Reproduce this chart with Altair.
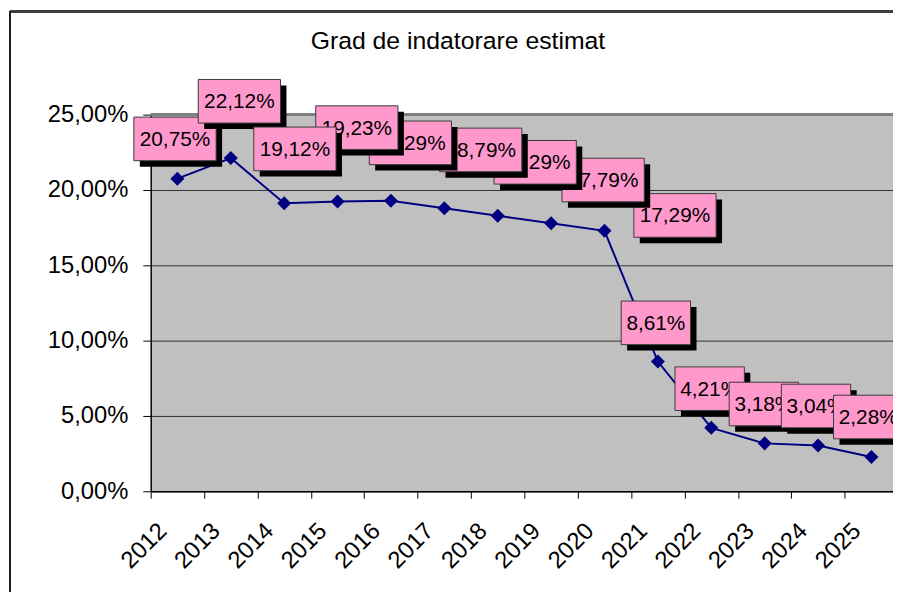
import altair as alt
import pandas as pd

# ---- data ----
years = list(range(2012, 2026))
values = [20.75, 22.12, 19.12, 19.23, 19.29, 18.79, 18.29, 17.79, 17.29,
          8.61, 4.21, 3.18, 3.04, 2.28]
# data-label anchors (box centres) in data units, as dragged in the original
label_x = [2011.955, 2013.161, 2014.201, 2015.361, 2016.364, 2017.681, 2018.702,
           2019.974, 2021.320, 2020.962, 2021.970, 2022.985, 2023.962, 2024.940]
label_y = [23.39, 25.89, 22.73, 24.14, 23.13, 22.66, 21.84, 20.66, 18.31,
           11.18, 6.81, 5.79, 5.66, 4.93]
# stacking of the label boxes, bottom to top, as in the original
label_order = [2012, 2013, 2020, 2019, 2018, 2017, 2016, 2015, 2014,
               2021, 2022, 2023, 2024, 2025]
y_ticks = [0, 5, 10, 15, 20, 25]
title_text = "Grad de indatorare estimat"

# ---- layout ----
W, H = 749, 380
BAND = 53.87                     # px per category
X0 = 2011.5
X1 = X0 + W / BAND
Y0, Y1 = 0.0, 0.25
PX_X = BAND
PX_Y = H / (Y1 - Y0)
FONT = "Liberation Sans"

xs = alt.Scale(domain=[X0, X1], nice=False, zero=False)
ys = alt.Scale(domain=[Y0, Y1], nice=False, zero=False)

df = pd.DataFrame({"year": years, "value": [v / 100 for v in values]})

def fmt(v):
    return f"{v:.2f}".replace(".", ",") + "%"

rows = []
for yr, v, lx, ly in zip(years, values, label_x, label_y):
    t = fmt(v)
    ly = ly / 100
    hw = (41.5 if len(t) > 5 else 35.0) / PX_X
    hh = 22.0 / PX_Y
    sx, sy = 6.0 / PX_X, 6.0 / PX_Y
    rows.append(dict(year=yr, text=t, lx=lx, ly=ly,
                     bx0=lx - hw, bx1=lx + hw, by0=ly - hh, by1=ly + hh,
                     sx0=lx - hw + sx, sx1=lx + hw + sx, sy0=ly - hh - sy, sy1=ly + hh - sy))
lab = pd.DataFrame(rows)

x_axis = alt.Axis(values=years, format="d",
                  tickOffset=-BAND / 2, labelOffset=12,
                  labelAngle=-45, labelAlign="right", labelBaseline="middle",
                  labelPadding=29, tickSize=7, labelOverlap=False,
                  tickColor="black", domainColor="black", domainWidth=1.5,
                  labelFontSize=24, labelFont=FONT, labelColor="black",
                  grid=False, title=None)
y_axis = alt.Axis(values=[t / 100 for t in y_ticks], format=".2%",
                  tickSize=8, labelPadding=15, tickColor="black",
                  domainColor="black", domainWidth=1.5, labelOverlap=False,
                  labelFontSize=24, labelFont=FONT, labelColor="black",
                  grid=True, gridColor="#333333", gridWidth=1,
                  title=None)

def X(field):
    return alt.X(field, scale=xs, axis=x_axis)

def Y(field):
    return alt.Y(field, scale=ys, axis=y_axis)

line = alt.Chart(df).mark_line(color="#000080", strokeWidth=2).encode(
    x=X("year:Q"), y=Y("value:Q"))
pts = alt.Chart(df).mark_point(shape="diamond", filled=True, size=200,
                               color="#000080", opacity=1).encode(
    x=X("year:Q"), y=Y("value:Q"))
top_rule = alt.Chart(df).mark_rule(color="#808080", strokeWidth=2).encode(
    y=alt.datum(Y1, scale=ys, axis=y_axis))

layers = [line, top_rule, pts]
base = alt.Chart(lab)
for yr in label_order:
    b = base.transform_filter(f"datum.year == {yr}")
    shadow = b.mark_rect(color="black", opacity=1).encode(
        x=X("sx0:Q"), x2="sx1:Q", y=Y("sy0:Q"), y2="sy1:Q")
    box = b.mark_rect(fill="#FF99CC", stroke="#3a3a3a", strokeWidth=1, opacity=1).encode(
        x=X("bx0:Q"), x2="bx1:Q", y=Y("by0:Q"), y2="by1:Q")
    txt = b.mark_text(font=FONT, fontSize=21, color="black",
                      align="center", baseline="middle", dy=1).encode(
        x=X("lx:Q"), y=Y("ly:Q"), text="text:N")
    layers += [shadow, box, txt]

# outer chart-area frame (decoration)
frame_top = alt.Chart(df).mark_rule(color="#404040", strokeWidth=2).encode(
    x=alt.value(-142), x2=alt.value(W + 20), y=alt.value(-104))
frame_left = alt.Chart(df).mark_rule(color="#202020", strokeWidth=1.5).encode(
    x=alt.value(-142), y=alt.value(-104), y2=alt.value(H + 120))
layers += [frame_top, frame_left]

chart = alt.layer(*layers).properties(
    width=W, height=H,
    autosize=alt.AutoSizeParams(type="none"),
    padding={"left": 144, "top": 105, "right": 0, "bottom": 99},
    background="white",
    title=alt.TitleParams(title_text, font=FONT, fontSize=25, fontWeight="normal",
                          color="black", anchor="middle", frame="group",
                          baseline="alphabetic", offset=-64, dx=-64.5),
).configure(
    locale=alt.Locale(number=alt.NumberLocale(decimal=",", thousands=".",
                                              grouping=[3], currency=["", " €"]))
).configure_view(fill="#C0C0C0", stroke="transparent")

chart.save("out.html", embed_options={"renderer": "svg", "actions": False})
